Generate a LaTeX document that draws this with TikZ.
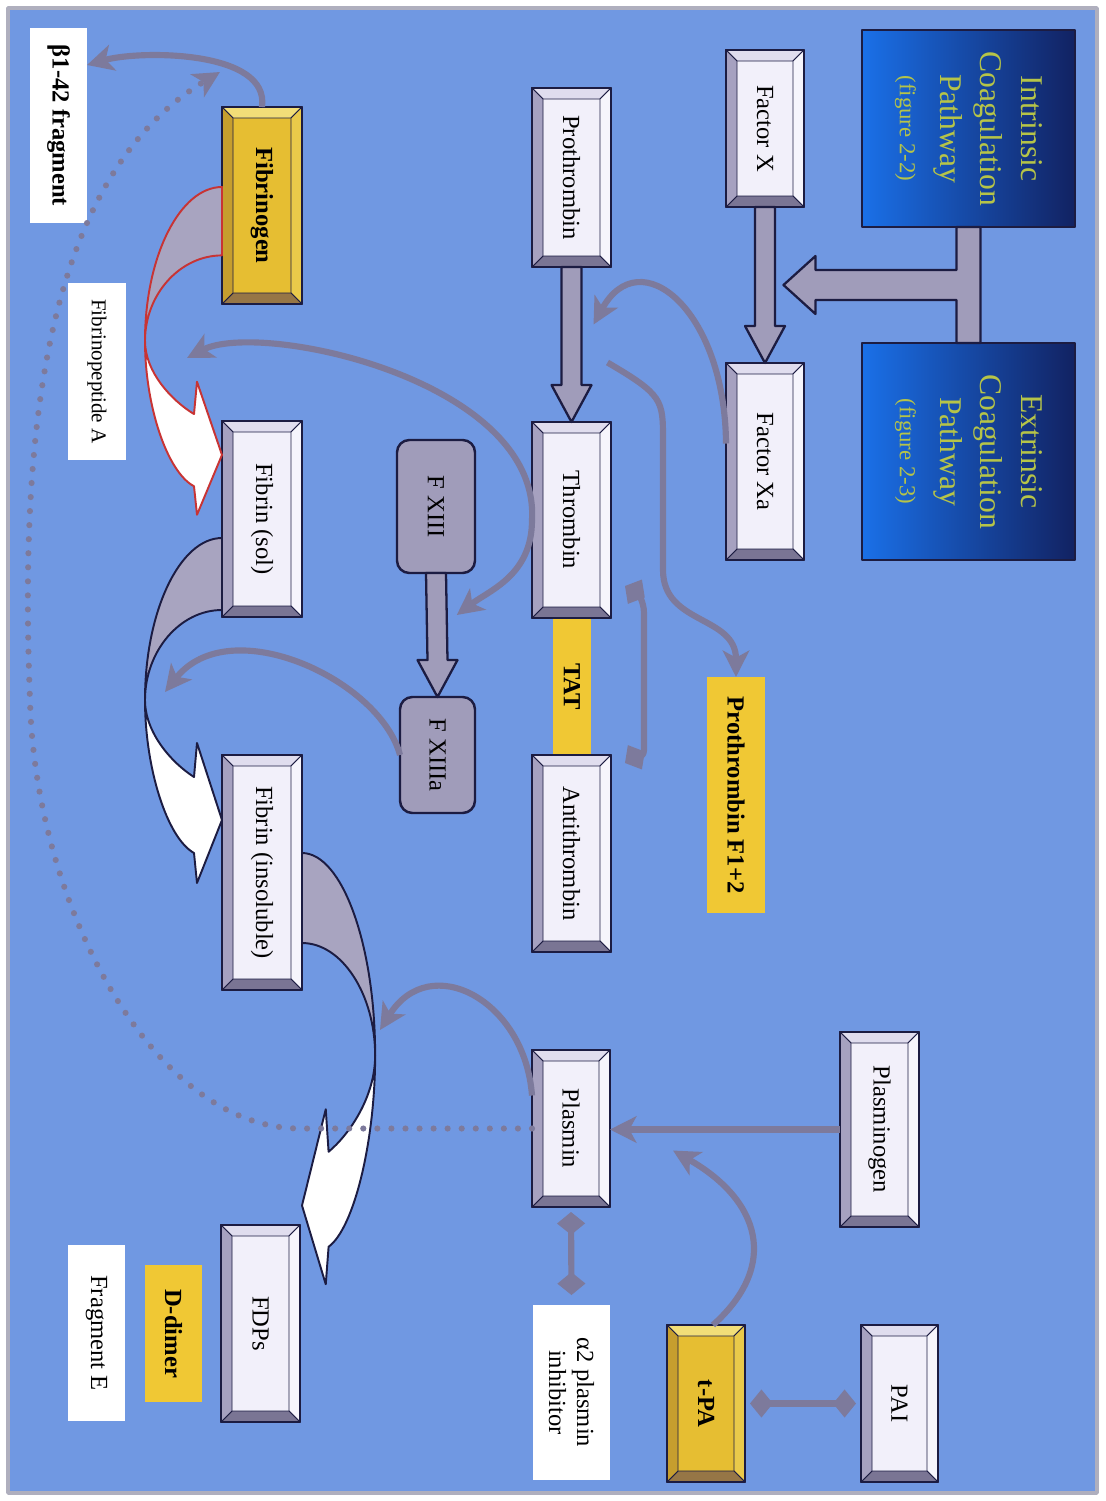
\documentclass[tikz,border=0pt]{standalone}
\usepackage{fontspec}
\setmainfont{Liberation Serif}
\usetikzlibrary{calc}
\usetikzlibrary{arrows.meta}
\usetikzlibrary{positioning}

\definecolor{bgblue}{RGB}{112,152,226}
\definecolor{framegray}{RGB}{175,175,190}
\definecolor{navy}{RGB}{28,28,66}
\definecolor{face}{RGB}{242,240,250}
\definecolor{bvl}{RGB}{224,221,238}
\definecolor{bvt}{RGB}{246,245,252}
\definecolor{bvb}{RGB}{166,161,192}
\definecolor{bvr}{RGB}{122,117,148}
\definecolor{goldface}{RGB}{230,190,50}
\definecolor{gdl}{RGB}{242,222,120}
\definecolor{gdt}{RGB}{234,202,74}
\definecolor{gdb}{RGB}{198,158,46}
\definecolor{gdr}{RGB}{150,118,70}
\definecolor{tagyellow}{RGB}{240,200,52}
\definecolor{fatgray}{RGB}{160,156,186}
\definecolor{curlgray}{RGB}{168,164,192}
\definecolor{linegray}{RGB}{125,122,156}
\definecolor{redline}{RGB}{200,52,52}
\definecolor{pathdark}{RGB}{18,34,98}
\definecolor{pathlight}{RGB}{26,112,232}
\definecolor{pathtext}{RGB}{182,196,72}

\newcommand{\boxfont}{\fontsize{14}{16}\selectfont}
\newcommand{\pathfont}{\fontsize{18}{23}\selectfont}
\newcommand{\figfont}{\fontsize{13}{15}\selectfont}
\newcommand{\smalltag}{\fontsize{12}{14}\selectfont}

% bevel bands round a box (west light, north lighter, south mid, east dark)
\newcommand{\bevel}[2][bv]{%
  \filldraw[fill=#1l, draw=navy, line width=.5pt] (#2.north west) -- (#2.south west) -- ($(#2.south west)+(11,11)$) -- ($(#2.north west)+(11,-11)$) -- cycle;
  \filldraw[fill=#1t, draw=navy, line width=.5pt] (#2.north west) -- (#2.north east) -- ($(#2.north east)+(-11,-11)$) -- ($(#2.north west)+(11,-11)$) -- cycle;
  \filldraw[fill=#1r, draw=navy, line width=.5pt] (#2.north east) -- (#2.south east) -- ($(#2.south east)+(-11,11)$) -- ($(#2.north east)+(-11,-11)$) -- cycle;
  \filldraw[fill=#1b, draw=navy, line width=.5pt] (#2.south west) -- (#2.south east) -- ($(#2.south east)+(-11,11)$) -- ($(#2.south west)+(11,11)$) -- cycle;
  \draw[navy, line width=1.4pt] (#2.north west) rectangle (#2.south east);}

% broad straight arrow from one box to the next
\newcommand{\fatarrow}[2]{%
  \draw[fatline] ($(#1.east)+(0,10)$) -- ($(#2.west)+(-37,10)$) -- ($(#2.west)+(-37,20)$) -- (#2.west)
    -- ($(#2.west)+(-37,-20)$) -- ($(#2.west)+(-37,-10)$) -- ($(#1.east)+(0,-10)$) -- cycle;}

% twisted ribbon arrow (grey back, white front)
\newcommand{\curlarrow}[3]{%
  \begin{scope}[shift={#1}, #2]
    \filldraw[fill=curlgray, draw=#3, line width=1.1pt] (0,0) .. controls (0,42) and (73,77) .. (162,77)
      .. controls (113,77) and (72,42) .. (72,0) -- cycle;
    \filldraw[fill=white, draw=#3, line width=1.1pt] (162,77) .. controls (230,77) and (300,55) .. (315,28)
      -- (345,25) -- (282,0) -- (205,25) -- (239,28) .. controls (225,50) and (195,77) .. (162,77) -- cycle;
  \end{scope}}

\tikzset{
  boxdim/.style 2 args={minimum width=#1*0.2mm, minimum height=#2*0.2mm},
  bevelbox/.style={draw=navy, line width=1.4pt, fill=face, inner sep=0pt, outer sep=0pt, font=\boxfont},
  goldbox/.style={bevelbox, fill=goldface, font=\boxfont\bfseries},
  tagbox/.style={fill=white, inner sep=0pt, outer sep=0pt, font=\boxfont, align=center},
  goldtag/.style={fill=tagyellow, inner sep=0pt, outer sep=0pt, font=\boxfont\bfseries},
  roundbox/.style={draw=navy, line width=1.4pt, fill=fatgray, rounded corners=7pt, inner sep=0pt, outer sep=0pt, font=\boxfont},
  pathbox/.style={draw=navy, line width=1.4pt, left color=pathlight, right color=pathdark, text=pathtext,
    align=center, font=\pathfont, inner sep=0pt, outer sep=0pt},
  fatline/.style={draw=navy, line width=1.3pt, fill=fatgray},
  thinarrow/.style={draw=linegray, line width=3.5pt, -{Stealth[length=15pt,width=15pt,inset=4pt]}},
  dotarrow/.style={draw=linegray, line width=3.5pt, line cap=round, dash pattern=on 0pt off 8pt,
    -{Stealth[length=15pt,width=15pt,inset=4pt]}},
  bind/.style={draw=linegray, line width=3.5pt, {Diamond[length=13pt,width=16pt]}-{Diamond[length=13pt,width=16pt]}}
}

\begin{document}
\begin{tikzpicture}[x=0.2mm, y=0.2mm, rotate=-90, transform shape, line join=round]
  \useasboundingbox (0,0) rectangle (1501,1105);
  \fill[white] (0,0) rectangle (1501,1105);
  \filldraw[fill=bgblue, draw=framegray, line width=2pt] (8,8) rectangle (1493,1097);

  %--- pathways
  \node[pathbox, boxdim={197}{213}] (intr) at (128.5,968.5) {Intrinsic\\Coagulation\\Pathway\\{\figfont (figure 2-2)}};
  \node[pathbox, boxdim={217}{213}] (extr) at (451.5,968.5) {Extrinsic\\Coagulation\\Pathway\\{\figfont (figure 2-3)}};

  %--- coagulation
  \node[bevelbox, boxdim={157}{78}] (factorX) at (128.5,765) {Factor X};
  \node[bevelbox, boxdim={197}{78}] (factorXa) at (461.5,765) {Factor Xa};
  \node[bevelbox, boxdim={179}{79}] (prothrombin) at (177.5,571.5) {Prothrombin};
  \node[bevelbox, boxdim={196}{79}] (thrombin) at (520,571.5) {Thrombin};
  \node[bevelbox, boxdim={197}{79}] (antithrombin) at (853.5,571.5) {Antithrombin};
  \node[goldtag, boxdim={137}{38}] (tat) at (686.5,572) {TAT};
  \node[goldtag, boxdim={236}{58}] (f12) at (795,736) {Prothrombin F1+2};
  \node[roundbox, boxdim={133}{78}] (fxiii) at (506.5,436) {F XIII};
  \node[roundbox, boxdim={116}{75}] (fxiiia) at (755,437.5) {F XIIIa};

  %--- fibrin
  \node[goldbox, boxdim={197}{80}] (fibrinogen) at (205.5,262) {Fibrinogen};
  \node[bevelbox, boxdim={196}{80}] (fibrinSol) at (519,262) {Fibrin (sol)};
  \node[bevelbox, boxdim={235}{80}] (fibrinIns) at (872.5,262) {Fibrin (insoluble)};
  \node[tagbox, boxdim={195}{57}, font=\boxfont\bfseries] (b142) at (125.5,58.5) {β1-42 fragment};
  \node[tagbox, boxdim={177}{58}, font=\smalltag] (fpA) at (371.5,97) {Fibrinopeptide A};

  %--- fibrinolysis
  \node[bevelbox, boxdim={195}{79}] (plasminogen) at (1129.5,879.5) {Plasminogen};
  \node[bevelbox, boxdim={157}{78}] (plasmin) at (1128.5,571) {Plasmin};
  \node[tagbox, boxdim={175}{77}] (alpha) at (1392.5,571.5) {α2 plasmin\\inhibitor};
  \node[goldbox, boxdim={157}{78}] (tpa) at (1403.5,706) {t-PA};
  \node[bevelbox, boxdim={157}{77}] (pai) at (1403.5,899.5) {PAI};
  \node[bevelbox, boxdim={197}{79}] (fdps) at (1323.5,260.5) {FDPs};
  \node[goldtag, boxdim={137}{57}] (ddimer) at (1333.5,173.5) {D-dimer};
  \node[tagbox, boxdim={176}{57}] (fragE) at (1333,96.5) {Fragment E};

  \foreach \b in {factorX,factorXa,prothrombin,thrombin,antithrombin,fibrinSol,fibrinIns,plasminogen,plasmin,pai,fdps}
    {\bevel{\b}}
  \foreach \b in {fibrinogen,tpa}
    {\bevel[gd]{\b}}

  %--- T connector from both pathways
  \coordinate (tee) at ($(intr.east)!0.5!(extr.west)$);
  \draw[fatline] ($(intr.east)+(0,12)$) -- ($(extr.west)+(0,12)$) -- ($(extr.west)+(0,-12)$) -- ($(tee)+(15,-12)$)
    -- ($(tee)+(15,-153)$) -- ($(tee)+(29,-153)$) -- ($(tee)+(0,-185)$) -- ($(tee)+(-29,-153)$)
    -- ($(tee)+(-15,-153)$) -- ($(tee)+(-15,-12)$) -- ($(intr.east)+(0,-12)$) -- cycle;

  %--- broad arrows
  \fatarrow{factorX}{factorXa}
  \fatarrow{prothrombin}{thrombin}
  \fatarrow{fxiii}{fxiiia}
  \coordinate (proconv) at ($(prothrombin.east)!0.5!(thrombin.west)$);
  \coordinate (xiiiconv) at ($(fxiii.east)!0.5!(fxiiia.west)$);

  %--- ribbon arrows
  \curlarrow{($(fibrinogen.south west)+(80,0)$)}{xscale=0.95, yscale=-1}{redline}
  \curlarrow{($(fibrinSol.south west)+(117,0)$)}{yscale=-1}{navy}
  \curlarrow{($(fibrinIns.north west)+(98,0)$)}{xscale=1.25, yscale=0.95}{navy}

  %--- thin arrows
  \draw[thinarrow] ($(factorXa.south)+(-18,0)$) .. controls (310,725) and (240,640) .. ($(proconv)+(-20,22)$);
  \draw[thinarrow] ($(proconv)+(18,36)$) .. controls (395,663) and (400,663) .. (440,663) -- (570,663)
    .. controls (625,663) and (615,736) .. (f12.west);
  \draw[thinarrow] (thrombin.south) .. controls (380,540) and (320,260) .. ($(fibrinSol.south west)+(-63,-35)$);
  \draw[thinarrow] (thrombin.south) .. controls (575,532) and (590,490) .. ($(xiiiconv)+(-20,20)$);
  \draw[thinarrow] (fxiiia.south) .. controls (680,380) and (610,230) .. ($(fibrinSol.south west)+(271,-57)$);
  \draw[thinarrow] (fibrinogen.west) .. controls (50,270) and (50,140) .. ($(b142.north west)+(37,0)$);
  \draw[dotarrow] (plasmin.south) -- ($(plasmin.south)+(0,-232)$) .. controls (1128,150) and (900,35) .. (700,30)
    .. controls (450,20) and (180,40) .. ($(fibrinogen.south west)+(-35,-2)$);
  \draw[thinarrow] ($(plasmin.south)+(-33,0)$) .. controls (1000,525) and (950,430) .. ($(fibrinIns.north east)+(40,78)$);
  \draw[thinarrow] (plasminogen.south) -- (plasminogen.south |- plasmin.north);
  \draw[thinarrow] ($(tpa.west)+(0,7)$) .. controls (1265,780) and (1200,760) .. ($(plasmin.north)+(22,63)$);

  %--- binding pairs
  \draw[bind] ($(thrombin.north east)+(-32,14)$) to[out=60,in=180] ($(thrombin.north east)+(-5,33)$)
    -- ($(antithrombin.north west)+(-5,33)$) to[out=0,in=120] ($(antithrombin.north west)+(8,14)$);
  \draw[bind] ($(plasmin.east)+(5,0)$) -- ($(alpha.west)+(-10,0)$);
  \draw[bind] ($(tpa.north)+(0,5)$) -- ($(pai.south)+(0,-5)$);
\end{tikzpicture}
\end{document}
